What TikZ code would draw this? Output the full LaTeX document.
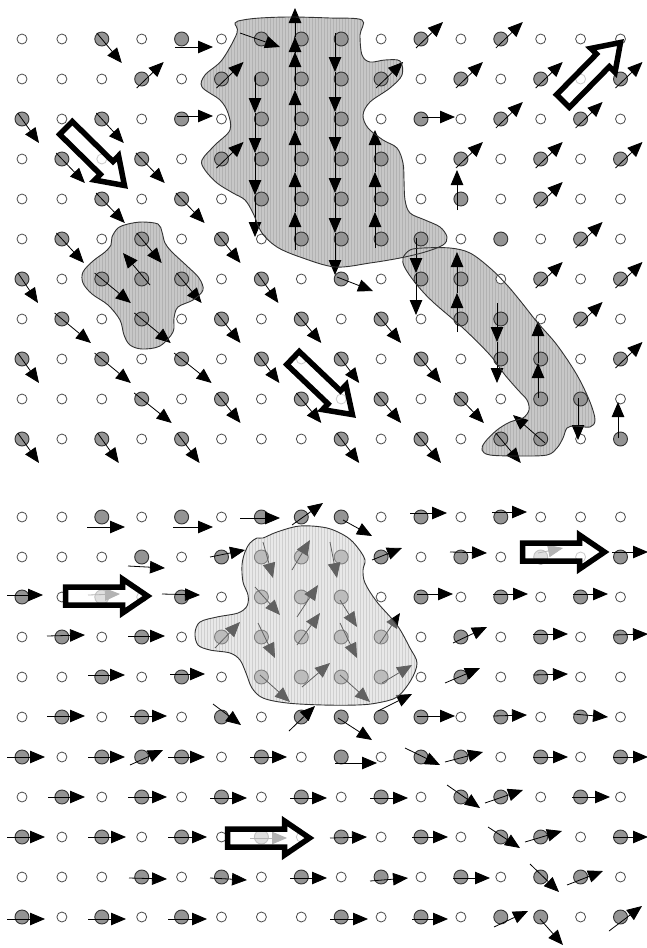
\documentclass[tikz,border=0pt]{standalone}
\usetikzlibrary{arrows.meta,patterns}
\begin{document}
\begin{tikzpicture}[x=1pt,y=-1pt,
  oc/.style={draw=black!70,fill=white,line width=0.8pt},
  fc/.style={draw=black!80,fill=black!42,line width=0.9pt},
  ar/.style={line width=0.8pt,-{Triangle[length=15pt,width=12.5pt]}},
  big/.style={draw=black,line width=5.5pt,fill=white,fill opacity=0.7},
  bline/.style={draw=black!80,line width=0.9pt},
  bfill/.style={fill=black!22},
  bstripe/.style={pattern=vertical lines,pattern color=black!30}]
\useasboundingbox (0,0) rectangle (647,948);
\clip (0,0) rectangle (647,948);
\fill[white] (0,0) rectangle (647,948);

% ---------- region outlines ----------
\path[save path=\pA] plot[smooth cycle,tension=0.55] coordinates {
 (235,23) (237,33) (222,60) (205,75) (202,87) (220,100) (228,113) (230,130)
 (215,145) (202,160) (205,170) (217,183) (233,193) (245,200) (253,213) (262,233)
 (277,247) (300,257) (335,267) (370,263) (400,258) (425,252) (443,245) (447,237)
 (440,227) (425,220) (410,213) (405,200) (404,180) (403,163) (397,148) (383,140)
 (368,128) (363,115) (370,102) (390,88) (402,75) (400,61) (385,60) (370,62)
 (362,55) (360,35) (362,20) (330,18) (290,17) (260,18) (243,20)};
\path[save path=\pB] plot[smooth cycle,tension=0.55] coordinates {
 (403,258) (410,250) (423,248) (450,248) (470,253) (490,268) (507,285) (522,303)
 (537,322) (557,345) (577,375) (590,402) (595,420) (590,427) (575,426) (567,428)
 (563,438) (557,448) (547,455) (520,456) (490,455) (482,450) (485,442) (497,430)
 (510,422) (523,418) (529,410) (527,400) (518,390) (505,375) (490,355) (463,328)
 (433,302) (417,285) (405,268)};
\path[save path=\pC] plot[smooth cycle,tension=0.55] coordinates {
 (112,237) (118,228) (128,224) (142,222) (158,224) (162,232) (165,243) (172,252)
 (187,266) (199,278) (203,290) (193,300) (178,307) (174,318) (173,332) (160,346)
 (142,349) (130,345) (124,335) (120,320) (108,305) (92,294) (83,283) (83,272)
 (93,261) (105,252) (111,245)};
\path[save path=\pD] plot[smooth cycle,tension=0.55] coordinates {
 (257,538) (250,543) (245,552) (242,565) (243,582) (248,595) (247,606) (238,613)
 (217,617) (200,622) (195,633) (198,645) (210,650) (230,653) (240,660) (246,673)
 (252,688) (263,698) (287,703) (323,705) (357,705) (377,703) (397,697) (411,680)
 (417,663) (410,648) (397,625) (377,602) (365,583) (363,570) (365,560) (358,548)
 (347,537) (327,528) (300,526) (277,532) (263,538)};

% region fills (under the atoms)
\foreach \p in {\pA,\pB,\pC}{
  \fill[bfill,use path=\p];
  \fill[bstripe,use path=\p];
}
\fill[fill=black!14,use path=\pD];
\fill[pattern=vertical lines,pattern color=black!30,use path=\pD];

% ---------- atoms (both panels share the lattice) ----------
\foreach \Y in {39,517}{
  \foreach \r/\l in {0/{0,1,3,5,9,11,13,14,15},1/{0,1,2,4,10,12,14},
      2/{1,3,5,9,11,13,15},3/{0,2,4,10,12,14},4/{0,1,3,5,10,12,14,15},
      5/{0,2,4,6,11,13,15},6/{1,5,7,9,12,14},7/{0,2,4,6,8,10,13,15},
      8/{1,3,5,7,9,11,14},9/{0,1,2,4,6,8,10,12,15},10/{1,3,5,6,7,9,11,14}}{
    \foreach \c in \l {\draw[oc] ({22+39.9*\c},{\Y+40*\r}) circle[radius=5];}
  }
  \foreach \r/\l in {0/{2,4,6,7,8,10,12},1/{3,5,6,7,8,9,11,13,15},
      2/{0,2,4,6,7,8,10,12,14},3/{1,3,5,6,7,8,9,11,13,15},4/{2,4,6,7,8,9,11,13},
      5/{1,3,5,7,8,9,10,12,14},6/{0,2,3,4,6,8,10,11,13,15},7/{1,3,5,7,9,11,12,14},
      8/{0,2,4,6,8,10,12,13,15},9/{3,5,7,9,11,13,14},10/{0,2,4,8,10,12,13,15}}{
    \foreach \c in \l {\draw[fc] ({22+39.9*\c},{\Y+40*\r}) circle[radius=7];}
  }
}

% ---------- top panel arrows ----------
\foreach \c/\r/\d in {2/0/20,0/2/17,2/2/22,1/3/23,3/3/23,2/4/23,4/4/23,1/5/22,3/5/20,
   5/5/19,0/6/16,2/6/29,4/6/20,6/6/17,1/7/29,3/7/29,5/7/19,7/7/20,9/7/20,0/8/17,
   2/8/29,4/8/30,6/8/18,8/8/18,10/8/20,3/9/30,5/9/19,7/9/20,9/9/20,11/9/23,
   0/10/17,2/10/17,4/10/18,8/10/18,10/10/20,12/10/20}{
  \draw[ar] ({22+39.9*\c-0.25*\d},{39+40*\r-6}) -- ({22+39.9*\c+\d},{39+40*\r+24});
}
\foreach \c/\r in {10/0,12/0,3/1,5/1,9/1,11/1,13/1,15/1,12/2,14/2,5/3,11/3,13/3,15/3,
   13/4,14/5,13/6,15/6,14/7,15/8}{
  \draw[ar] ({22+39.9*\c-5},{39+40*\r+9}) -- ({22+39.9*\c+22},{39+40*\r-17});
}
\foreach \a/\b/\e/\f in {175/47/213/47,240/33/280/47,177/116/213/116,422/117/455/117,
   337/277/373/291,150/285/123/253,545/443/513/415,457/210/457/170,618/438/618/402}{
  \draw[ar] (\a,\b) -- (\e,\f);
}
% chains of arrows inside the grey regions
\foreach \x/\a/\b in {255/75/113,255/113/153,255/153/195,255/195/237,
   295/250/212,295/212/172,295/172/130,295/130/90,295/90/52,295/52/37,295/37/8,
   335/33/72,335/72/112,335/112/152,335/152/193,335/193/233,335/233/275,
   375/248/212,375/212/172,375/172/130,
   416/238/273,416/273/315,457/332/293,457/293/252,497/303/342,497/342/383,
   538/398/363,538/363/321,578/398/440}{
  \draw[ar] (\x,\a) -- (\x,\b);
}
\foreach \p in {\pA,\pB,\pC}{\draw[bline,use path=\p];}

% ---------- bottom panel arrows ----------
\foreach \a/\b/\e/\f in {
 87/527/125/527,173/527/213/527,240/518/280/518,292/525/323/503,343/520/372/536,410/513/447/513,492/512/527/512,
 128/566/165/568,210/557/245/550,263/542/273/578,292/570/310/540,330/542/337/578,372/560/402/548,450/552/487/553,538/553/563/548,612/552/648/552,
 7/595/43/595,88/595/120/594,162/594/200/595,255/587/280/615,297/617/318/585,340/600/357/627,417/594/453/594,493/594/528/594,573/594/608/594,
 47/636/85/635,128/636/165/636,215/648/240/622,258/623/275/658,297/645/320/613,340/623/357/658,380/643/400/613,453/643/487/627,533/634/568/634,613/635/648/634,
 88/675/125/675,170/674/205/674,260/675/290/702,302/687/330/663,340/675/370/702,382/683/412/665,445/683/480/668,533/675/568/674,
 47/716/85/716,130/716/167/716,213/704/241/725,289/731/315/706,338/718/372/740,378/711/412/694,417/716/455/716,493/716/527/715,573/714/608/717,
 7/757/45/757,88/757/125/757,130/765/163/750,168/757/205/757,250/757/287/757,335/763/377/763,405/748/440/765,445/762/483/752,533/757/568/757,613/757/648/757,
 48/797/85/797,128/797/167/797,210/798/247/798,290/798/327/798,370/798/408/798,447/785/480/808,485/803/523/790,572/797/610/797,
 7/837/45/837,88/837/126/837,168/837/207/837,250/838/287/838,330/838/367/837,412/837/448/837,488/827/520/848,525/842/562/831,613/837/648/837,
 129/878/167/879,210/878/247/880,290/878/327/878,370/881/408/878,453/878/490/878,530/864/559/892,567/885/603/871,
 7/919/45/919,88/919/126/919,168/919/207/919,330/919/368/919,412/919/448/919,494/927/528/911,540/919/563/945,609/931/642/906}{
  \draw[ar] (\a,\b) -- (\e,\f);
}
% the bottom region washes over its atoms
\fill[white,fill opacity=0.38,use path=\pD];
\draw[bline,use path=\pD];

% ---------- big hollow arrows ----------
\foreach \x/\y/\ang in {66/128/-44.5,563/101/45.5,293/358/-43.6,65.5/596/0,522.5/552/0,227.5/838/0}{
  \begin{scope}[shift={(\x,\y)},rotate=\ang]
    \draw[big] (0,-9) -- (57,-9) -- (57,-17) -- (82,0) -- (57,17) -- (57,9) -- (0,9) -- cycle;
  \end{scope}
}
\end{tikzpicture}
\end{document}
